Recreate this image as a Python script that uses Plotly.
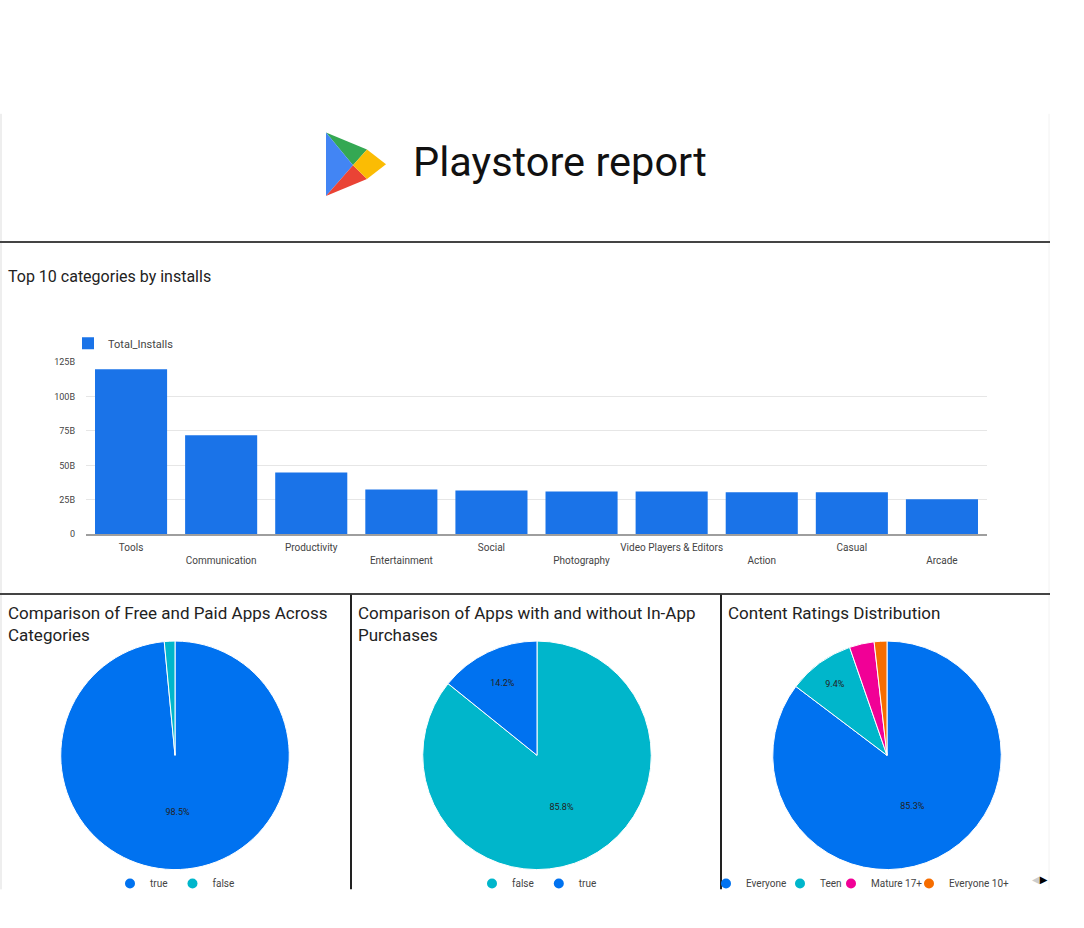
import plotly.graph_objects as go

W, H = 1084, 928

# ---------------- data ----------------
categories = ["Tools", "Communication", "Productivity", "Entertainment", "Social",
              "Photography", "Video Players & Editors", "Action", "Casual", "Arcade"]
total_installs = [119.8e9, 71.8e9, 44.9e9, 32.4e9, 31.7e9, 31.0e9, 31.0e9, 30.5e9, 30.5e9, 25.4e9]
y_ticks = [0, 25e9, 50e9, 75e9, 100e9, 125e9]

free_labels = ["true", "false"]
free_values = [98.5, 1.5]

inapp_labels = ["false", "true"]
inapp_values = [85.8, 14.2]

rating_labels = ["Everyone", "Teen", "Mature 17+", "Everyone 10+"]
rating_values = [85.3, 9.4, 3.5, 1.8]

# ---------------- style ----------------
FONT = "Roboto"
BAR_BLUE = "#1a73e8"
palette = {"true": "#0072f0", "false": "#00b6cb",
           "Everyone": "#0072f0", "Teen": "#00b6cb", "Mature 17+": "#f10096", "Everyone 10+": "#f66d00"}


def X(px):
    return px / W


def Y(py):
    return 1 - py / H


fig = go.Figure()

# bar chart
fig.add_trace(go.Bar(
    x=categories, y=total_installs, name="Total_Installs",
    marker=dict(color=BAR_BLUE, line=dict(width=0)),
    legend="legend", showlegend=True, hoverinfo="x+y",
))

legend_common = dict(orientation="h", bgcolor="rgba(0,0,0,0)", borderwidth=0,
                     font=dict(family=FONT, size=10, color="#444444"),
                     itemclick=False, itemdoubleclick=False)
extra_legends = {}

PIE_TOP, PIE_BOTTOM = 643, 874


def add_pie(labels, values, x0, x1, legend_names):
    fig.add_trace(go.Pie(
        labels=labels, values=values, sort=False, direction="clockwise", rotation=0,
        marker=dict(colors=[palette[l] for l in labels], line=dict(color="white", width=1)),
        texttemplate="%{percent:.1%}",
        textposition=["inside" if v >= 5 else "none" for v in values],
        insidetextorientation="horizontal",
        textfont=dict(family=FONT, size=9, color="#222222"),
        domain=dict(x=[X(x0), X(x1)], y=[Y(PIE_BOTTOM), Y(PIE_TOP)]),
        showlegend=False, hoverinfo="label+percent",
    ))
    for l, lg in zip(labels, legend_names):
        fig.add_trace(go.Scatter(
            x=[None], y=[None], mode="markers", name=l,
            marker=dict(symbol="circle", size=10, color=palette[l]),
            legend=lg, showlegend=True, hoverinfo="skip",
        ))


add_pie(free_labels, free_values, 59, 291, ["legend2"] * len(free_labels))
add_pie(inapp_labels, inapp_values, 421, 653, ["legend3"] * len(inapp_labels))
rating_legends = [f"legend{4 + i}" for i in range(len(rating_labels))]
add_pie(rating_labels, rating_values, 771, 1003, rating_legends)

LEG_Y = 888
# per-item legend positions for the ratings chart (left edge of each item, px)
rating_legend_px = [706, 780, 831, 909]
for lg, px in zip(rating_legends, rating_legend_px):
    extra_legends[lg] = dict(x=X(px), y=Y(LEG_Y), xanchor="left", yanchor="middle", **legend_common)

ticktext_x = [c if i % 2 == 0 else "<br>" + c for i, c in enumerate(categories)]
ticktext_y = ["0" if v == 0 else f"{v / 1e9:.0f}B" for v in y_ticks]

fig.update_layout(
    width=W, height=H,
    margin=dict(l=0, r=0, t=0, b=0),
    paper_bgcolor="white", plot_bgcolor="white",
    font=dict(family=FONT, color="#333333"),
    bargap=0.2,
    xaxis=dict(
        domain=[X(86), X(987)], type="category",
        tickmode="array", tickvals=categories, ticktext=ticktext_x,
        tickfont=dict(family=FONT, size=10, color="#444444"),
        showgrid=False, showline=True, linecolor="#9e9e9e", linewidth=1.5,
        ticks="", fixedrange=True, zeroline=False, ticklabelstandoff=3,
    ),
    yaxis=dict(
        domain=[Y(535), Y(361)], range=[0, 125e9],
        tickmode="array", tickvals=y_ticks, ticktext=ticktext_y,
        tickfont=dict(family=FONT, size=9, color="#444444"),
        showgrid=True, gridcolor="#e6e6e6", gridwidth=1,
        zeroline=False, showline=False, ticks="", ticklabelstandoff=10,
        fixedrange=True,
    ),
    legend=dict(x=X(68), y=Y(342), xanchor="left", yanchor="middle", **{**legend_common,
                "font": dict(family=FONT, size=11, color="#444444")}),
    legend2=dict(x=X(175), y=Y(LEG_Y), xanchor="center", yanchor="middle", **legend_common),
    legend3=dict(x=X(537), y=Y(LEG_Y), xanchor="center", yanchor="middle", **legend_common),
    **extra_legends,
)

# ---------------- texts ----------------
annotations = [
    dict(text="Playstore report", x=X(411), y=Y(158), xanchor="left", yanchor="middle",
         font=dict(family=FONT, size=41.5, color="#111111")),
    dict(text="Top 10 categories by installs", x=X(6), y=Y(274), xanchor="left", yanchor="middle",
         font=dict(family=FONT, size=16, color="#222222")),
    dict(text="Comparison of Free and Paid Apps Across<br>Categories", x=X(6), y=Y(602),
         xanchor="left", yanchor="top", align="left",
         font=dict(family=FONT, size=17, color="#222222")),
    dict(text="Comparison of Apps with and without In-App<br>Purchases", x=X(356), y=Y(602),
         xanchor="left", yanchor="top", align="left",
         font=dict(family=FONT, size=17, color="#222222")),
    dict(text="Content Ratings Distribution", x=X(726), y=Y(602),
         xanchor="left", yanchor="top", align="left",
         font=dict(family=FONT, size=17, color="#222222")),
    dict(text="<span style='color:#cccccc'>◀</span>▶", x=X(1050), y=Y(884),
         xanchor="right", yanchor="middle", font=dict(family="DejaVu Sans", size=10, color="#000000")),
]
for a in annotations:
    a.update(xref="paper", yref="paper", showarrow=False)
fig.update_layout(annotations=annotations)

# ---------------- frame lines & logo ----------------
shapes = []


def hline(py, x0, x1, color, width):
    shapes.append(dict(type="line", xref="paper", yref="paper", x0=X(x0), x1=X(x1), y0=Y(py), y1=Y(py),
                       line=dict(color=color, width=width)))


def vline(px, y0, y1, color, width):
    shapes.append(dict(type="line", xref="paper", yref="paper", x0=X(px), x1=X(px), y0=Y(y0), y1=Y(y1),
                       line=dict(color=color, width=width)))


vline(1, 110, 894, "#dddddd", 1)
vline(1049, 110, 894, "#f2f2f2", 1)
hline(239.5, 0, 1050, "#444444", 2)
hline(595.5, 0, 1050, "#444444", 2)
vline(351, 596, 894, "#222222", 2)
vline(721, 596, 894, "#222222", 2)


def poly(points, color):
    d = "M " + " L ".join(f"{X(px):.5f},{Y(py):.5f}" for px, py in points) + " Z"
    shapes.append(dict(type="path", xref="paper", yref="paper", path=d,
                       fillcolor=color, line=dict(width=0), layer="above"))


# Google Play logo
tl, bl, tip, c = (326, 129), (326, 193), (386, 161), (353, 162)
top_split, bot_split = (367, 146), (367, 176)
poly([tl, top_split, c], "#34A853")
poly([tl, c, bl], "#4285F4")
poly([bl, c, bot_split], "#EA4335")
poly([top_split, tip, bot_split, c], "#FBBC04")

fig.update_layout(shapes=shapes)

fig.write_html("out.html", config={"displayModeBar": False},
               post_script="document.body.style.margin='0';")
